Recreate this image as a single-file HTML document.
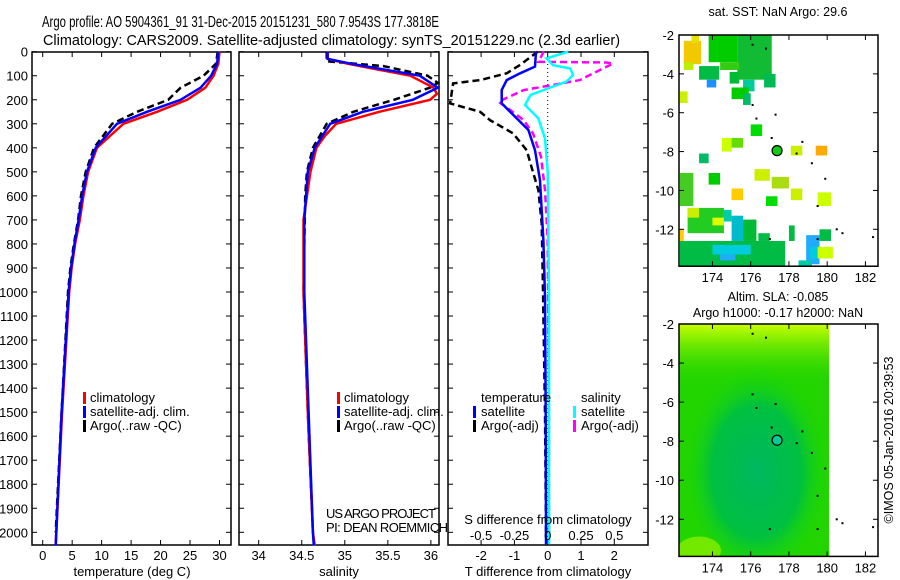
<!DOCTYPE html>
<html><head><meta charset="utf-8"><style>
html,body{margin:0;padding:0;background:#fff;}
svg{display:block;font-family:"Liberation Sans",sans-serif;}
text{font-size:13px;fill:#000;}
</style></head><body>
<svg id="fig" width="900" height="580" viewBox="0 0 900 580">
<text x="42" y="27" textLength="397" lengthAdjust="spacingAndGlyphs" style="font-size:15.5px">Argo profile: AO 5904361_91 31-Dec-2015 20151231_580 7.9543S 177.3818E</text>
<text x="43" y="45" textLength="577" lengthAdjust="spacingAndGlyphs" style="font-size:15px">Climatology: CARS2009. Satellite-adjusted climatology: synTS_20151229.nc (2.3d earlier)</text>
<g id="g"></g>
</svg>
<script>
// ---- profile data (depth in dbar) ----
const tClimD=[0,50,100,150,200,250,300,400,500,600,700,800,900,1000,1500,2000,2055];
const tClimV=[30,29.8,29,27.6,24.5,19.4,13.7,9.2,7.7,6.9,6.3,5.5,4.9,4.5,3.3,2.3,2.2];
const tSatD=[0,50,100,150,200,250,300,400,500,600,700,800,900,1000,1500,2000,2055];
const tSatV=[29.8,29.6,28.6,26.8,23.4,17.7,12.6,9.0,7.5,6.7,6.1,5.4,4.8,4.4,3.2,2.3,2.2];
const tArgoD=[0,50,100,150,200,250,300,400,500,600,700,800,900,1000,1500,2000];
const tArgoV=[29.7,29.4,27.3,23.4,21.3,16,11.8,8.7,7.3,6.5,6.0,5.3,4.7,4.3,3.2,2.2];
const sClimD=[0,30,50,100,150,175,200,250,300,350,400,500,700,1000,1500,2000,2055];
const sClimV=[34.8,34.8,35.03,35.76,36.03,36.07,35.99,35.4,34.9,34.77,34.67,34.6,34.52,34.52,34.57,34.63,34.65];
const sSatD=[0,30,50,100,150,200,250,300,400,500,700,1000,1500,2000,2055];
const sSatV=[34.8,34.8,35.07,35.87,36.08,35.79,35.21,34.83,34.65,34.57,34.53,34.53,34.58,34.63,34.64];
const sArgoD=[0,40,60,100,130,150,200,250,300,400,500,600,1000,1500,2000];
const sArgoV=[34.79,34.79,35.45,35.96,36.08,35.99,35.57,35.1,34.79,34.63,34.56,34.54,34.52,34.57,34.63];
// differences
const dTSatD=[0,62,90,118,160,215,271,326,410,535,785,1020,1500,2000,2050];
const dTSatV=[-0.35,-0.38,-0.83,-1.23,-1.38,-1.38,-0.98,-0.58,-0.38,-0.23,-0.13,-0.08,-0.06,-0.05,-0.05];
const dTArgoD=[0,55,90,118,132,215,250,285,340,410,507,576,715,923,1500,2000];
const dTArgoV=[-0.3,-0.83,-1.23,-2.03,-2.84,-2.93,-2.03,-1.73,-1.04,-0.63,-0.43,-0.28,-0.18,-0.15,-0.08,-0.05];
const dSSatD=[0,28,56,70,97,125,153,180,222,278,361,500,1000,2000,2050];
const dSSatV=[0.155,-0.01,0.04,0.17,0.19,0.14,0,-0.13,-0.17,-0.07,-0.02,0,0.01,0.01,0.01];
const dSArgoD=[0,42,45,49,118,160,208,243,285,340,437,576,785,1500,2000];
const dSArgoV=[-0.03,-0.07,0.44,0.49,0.24,-0.18,-0.37,-0.28,-0.18,-0.11,-0.05,-0.02,0,0.01,0.01];
// axis ticks
const depthTicks=[0,100,200,300,400,500,600,700,800,900,1000,1100,1200,1300,1400,1500,1600,1700,1800,1900,2000];
const tempTicks=[0,5,10,15,20,25,30];
const salTicks=[34,34.5,35,35.5,36];
const dTTicks=[-2,-1,0,1,2];
const dSTicks=[-0.5,-0.25,0,0.25,0.5];
const dSTickLabels=["-0.5","-0.25","0","0.25","0.5"];
const latTicks=[-2,-4,-6,-8,-10,-12];
const lonTicks=[174,176,178,180,182];
// SST map cells [lon0,lon1,lat0,lat1,color]
const sstCells=[
[172.5,173.4,-2.3,-3.5,"#f2c800"],[172.9,173.3,-2.0,-2.4,"#e8e000"],[172.5,173.0,-3.4,-3.8,"#bbee00"],
[173.8,175.3,-2.0,-3.4,"#00cc00"],[175.3,177.1,-2.0,-4.3,"#11bb33"],[174.4,175.4,-3.4,-3.8,"#33cc11"],
[173.3,174.35,-3.6,-4.3,"#00bb44"],[173.7,174.2,-4.3,-4.7,"#1e90ff"],[174.9,175.4,-3.9,-4.5,"#00bb33"],
[175.6,176.2,-4.3,-4.9,"#00cc99"],[176.7,177.3,-4.0,-4.7,"#00bb55"],[172.3,172.7,-4.9,-5.5,"#ccee00"],
[175.0,175.9,-4.7,-5.3,"#00cc00"],[175.6,176.0,-5.0,-5.6,"#00bb66"],[176.0,176.6,-6.6,-7.2,"#00dd00"],
[174.5,175.0,-7.3,-8.0,"#ccff00"],[175.0,175.6,-7.3,-7.8,"#66dd00"],[173.3,173.8,-8.1,-8.6,"#00bb66"],
[178.1,178.7,-7.7,-8.2,"#ccee00"],[179.4,180.0,-7.7,-8.2,"#ffaa00"],[173.8,174.4,-9.1,-9.7,"#00cc00"],
[176.2,177.0,-8.9,-9.5,"#ccee00"],[177.1,178.0,-9.3,-9.9,"#aadd11"],[178.1,178.7,-9.9,-10.5,"#ccee00"],
[175.0,175.6,-9.9,-10.5,"#ffcc00"],[179.5,180.2,-10.1,-10.8,"#ccff00"],[176.8,177.4,-10.3,-10.8,"#00dd00"],
[172.3,173.0,-9.1,-10.8,"#44cc22"],[172.7,174.6,-10.9,-12.2,"#22cc22"],[172.7,173.3,-10.9,-11.4,"#ccee00"],
[174.0,174.6,-11.4,-11.8,"#ddff00"],[174.6,175.0,-11.0,-11.6,"#00ccaa"],[175.0,175.6,-11.3,-12.6,"#00bbcc"],
[175.6,176.3,-11.5,-12.6,"#00bb33"],[172.3,177.8,-12.6,-13.9,"#00bb44"],[174.0,176.0,-12.8,-13.3,"#00ccdd"],
[174.4,175.2,-13.3,-13.6,"#22aaff"],[176.4,177.0,-12.2,-12.6,"#00bb44"],[178.0,178.3,-11.8,-12.6,"#00bb44"],
[178.9,179.6,-12.3,-13.8,"#22aaff"],[179.1,179.6,-12.9,-13.5,"#00ccdd"],
[179.6,180.2,-12.0,-12.6,"#00bb44"],[179.5,180.3,-12.9,-13.5,"#ccff00"],[178.5,179.2,-13.6,-13.9,"#00ccaa"],
[172.3,172.5,-12.0,-12.6,"#ffcc00"]
];
const dots=[[176.1,-2.5],[176.8,-2.7],[176.1,-5.6],[176.3,-6.3],[177.3,-6.1],[177.1,-7.3],[178.4,-8.1],[178.7,-7.5],[179.2,-8.6],[179.9,-9.4],[179.5,-10.8],[180.5,-12.0],[180.8,-12.2],[182.4,-12.4],[177.0,-12.5],[179.5,-12.5]];
const argoLon=177.38, argoLat=-7.95;

const NS="http://www.w3.org/2000/svg";
const G=document.getElementById('g');
function el(tag,attrs,parent){const e=document.createElementNS(NS,tag);for(const k in attrs)e.setAttribute(k,attrs[k]);(parent||G).appendChild(e);return e;}
const Y=d=>51.7+d*0.2403;
const PT=52,PB=545;
function panel(x0,x1,name){
  const r=el('rect',{x:x0,y:PT,width:x1-x0,height:PB-PT,fill:'none',stroke:'#000','stroke-width':1.5});
  
  
}
function line(D,V,X,color,dash,name,w){
  let p='';for(let i=0;i<D.length;i++)p+=(i?'L':'M')+X(V[i]).toFixed(1)+','+Y(D[i]).toFixed(1);
  const a={d:p,fill:'none',stroke:color,'stroke-width':w||2.5};if(dash)a['stroke-dasharray']=dash;
  const e=el('path',a);
  
  
}
function txt(x,y,s,anchor,name,size,parent){
  const t=el('text',{x:x,y:y,'text-anchor':anchor||'start'},parent);t.textContent=s;if(size)t.style.fontSize=size+'px';
  
  
  return t;
}
function depthAxis(x0,x1,labels){
  depthTicks.forEach(d=>{const y=Y(d);el('line',{x1:x0,x2:x0+5,y1:y,y2:y,stroke:'#000'});el('line',{x1:x1-5,x2:x1,y1:y,y2:y,stroke:'#000'});
    if(labels)txt(28,y+5,String(d),'end','depth-tick-label');});
}
function xticks(vals,X,labs,ly){
  vals.forEach((v,i)=>{const x=X(v);el('line',{x1:x,x2:x,y1:PT,y2:PT+5,stroke:'#000'});el('line',{x1:x,x2:x,y1:PB-5,y2:PB,stroke:'#000'});
    if(labs)txt(x,ly,labs[i],'middle','x-tick-label');});
}
function legendMark(x,y,c){el('rect',{x:x,y:y-10,width:3,height:12,fill:c});}
// panel 1 temperature
const XT=v=>42.7+v*5.893;
panel(32,231,'temperature-panel');depthAxis(32,231,true);
xticks(tempTicks,XT,tempTicks.map(String),560);
line(tArgoD,tArgoV,XT,'#000','7,4','argo-temperature-line');
line(tClimD,tClimV,XT,'#f00',null,'climatology-temperature-line');
line(tSatD,tSatV,XT,'#00f',null,'satellite-temperature-line');
txt(132,576,'temperature (deg C)','middle','temperature-axis-title');
legendMark(83,402,'#f00');txt(90,402,'climatology','start','legend-climatology');
legendMark(83,416,'#00f');txt(90,416,'satellite-adj. clim.','start','legend-satellite');
legendMark(83,430,'#000');txt(90,430,'Argo(..raw -QC)','start','legend-argo');
// panel 2 salinity
const XS=v=>258.7+(v-34)*86.1;
panel(239,439,'salinity-panel');depthAxis(239,439,false);
xticks(salTicks,XS,salTicks.map(String),560);
line(sArgoD,sArgoV,XS,'#000','7,4','argo-salinity-line');
line(sClimD,sClimV,XS,'#f00',null,'climatology-salinity-line');
line(sSatD,sSatV,XS,'#00f',null,'satellite-salinity-line');
txt(339,576,'salinity','middle','salinity-axis-title');
legendMark(337,402,'#f00');txt(344,402,'climatology','start','legend-climatology-2');
legendMark(337,416,'#00f');txt(344,416,'satellite-adj. clim.','start','legend-satellite-2');
legendMark(337,430,'#000');txt(344,430,'Argo(..raw -QC)','start','legend-argo-2');
txt(326,518,'US ARGO PROJECT','start','project-label').setAttribute('textLength','110');
txt(326,532,'PI: DEAN ROEMMICH','start','pi-label').setAttribute('textLength','122');
// panel 3 differences
const XdT=v=>547.7+v*33.3, XdS=v=>547.7+v*133.2;
panel(448,648,'difference-panel');depthAxis(448,648,false);
xticks(dTTicks,XdT,dTTicks.map(String),560);
el('line',{x1:XdT(0),x2:XdT(0),y1:PT,y2:PB,stroke:'#000','stroke-dasharray':'1,3'});
line(dTArgoD,dTArgoV,XdT,'#000','7,4','argo-t-difference-line');
line(dSArgoD,dSArgoV,XdS,'#f0f','7,4','argo-s-difference-line');
line(dSSatD,dSSatV,XdS,'#0ff',null,'satellite-s-difference-line');
line(dTSatD,dTSatV,XdT,'#00f',null,'satellite-t-difference-line');
dSTicks.forEach((v,i)=>txt(XdS(v),540,dSTickLabels[i],'middle','s-tick-label'));
txt(548,524,'S difference from climatology','middle','s-difference-axis-title');
txt(548,576,'T difference from climatology','middle','t-difference-axis-title');
txt(481,402,'temperature','start','legend-temperature-header');
legendMark(473,416,'#00f');txt(481,416,'satellite','start','legend-t-satellite');
legendMark(473,430,'#000');txt(481,430,'Argo(-adj)','start','legend-t-argo');
txt(581,402,'salinity','start','legend-salinity-header');
legendMark(573,416,'#0ff');txt(581,416,'satellite','start','legend-s-satellite');
legendMark(573,430,'#f0f');txt(581,430,'Argo(-adj)','start','legend-s-argo');
// maps
const defs=el('defs',{});
function drawMap(y0,name,body){
  const s=(y0===35)?19.43:19.53;
  const LX=v=>679+(v-172.25)*19.12, LY=v=>y0+(-2-v)*s;
  const y1=LY(-13.9);
  const cp=el('clipPath',{id:'clip'+y0},defs);
  el('rect',{x:679,y:y0,width:199,height:y1-y0},cp);
  const g=el('g',{});
  
  
  const inner=el('g',{'clip-path':'url(#clip'+y0+')'},g);
  body(LX,LY,inner);
  dots.forEach(d=>el('rect',{x:LX(d[0])-1,y:LY(d[1])-1,width:2,height:2,fill:'#000'},g));
  const c=el('circle',{cx:LX(argoLon),cy:LY(argoLat),r:5,stroke:'#000','stroke-width':1.2,fill:y0===35?'#11cc11':'#00cc99'},g);
  
  
  el('rect',{x:679,y:y0,width:199,height:y1-y0,fill:'none',stroke:'#000','stroke-width':1.5},g);
  latTicks.forEach(v=>{const y=LY(v);el('line',{x1:679,x2:684,y1:y,y2:y,stroke:'#000'},g);el('line',{x1:873,x2:878,y1:y,y2:y,stroke:'#000'},g);txt(674,y+5,String(v),'end','lat-tick-label',null,g);});
  lonTicks.forEach(v=>{const x=LX(v);el('line',{x1:x,x2:x,y1:y0,y2:y0+5,stroke:'#000'},g);el('line',{x1:x,x2:x,y1:y1-5,y2:y1,stroke:'#000'},g);txt(x,y1+16,String(v),'middle','lon-tick-label',null,g);});
}
const rg=el('radialGradient',{id:'slaC',cx:'0.5',cy:'0.55',r:'0.5'},defs);
el('stop',{offset:'0','stop-color':'#00b860'},rg);el('stop',{offset:'0.6','stop-color':'#00c040'},rg);el('stop',{offset:'1','stop-color':'#22dd00','stop-opacity':'0'},rg);
const lg=el('linearGradient',{id:'slaT',x1:0,y1:0,x2:0,y2:1},defs);
el('stop',{offset:'0','stop-color':'#ccff00'},lg);el('stop',{offset:'1','stop-color':'#33dd00','stop-opacity':'0'},lg);
drawMap(35,'sst-map',(LX,LY,g)=>{
  sstCells.forEach(c=>el('rect',{x:LX(c[0]),y:LY(c[2]),width:LX(c[1])-LX(c[0]),height:LY(c[3])-LY(c[2]),fill:c[4]},g));
});
txt(778,16,'sat. SST: NaN  Argo: 29.6','middle','sst-map-title',12.5);
drawMap(324,'sla-map',(LX,LY,g)=>{
  el('rect',{x:LX(172.25),y:LY(-2),width:LX(180.1)-LX(172.25),height:LY(-13.9)-LY(-2),fill:'#22d400'},g);
  el('rect',{x:LX(172.25),y:LY(-2),width:LX(180.1)-LX(172.25),height:60,fill:'url(#slaT)'},g);
  el('ellipse',{cx:LX(176.3),cy:LY(-9),rx:75,ry:110,fill:'url(#slaC)'},g);
  el('ellipse',{cx:LX(173.3),cy:LY(-13.6),rx:22,ry:14,fill:'#88ee00',opacity:0.8},g);
});
txt(778,301,'Altim. SLA: -0.085','middle','sla-map-title-1',12.5);
txt(778,317,'Argo h1000: -0.17 h2000: NaN','middle','sla-map-title-2',12.5);
const r=txt(0,0,'©IMOS 05-Jan-2016 20:39:53','middle','timestamp-label',12.5);
r.setAttribute('transform','translate(893,440) rotate(-90)');
</script>
</body></html>
